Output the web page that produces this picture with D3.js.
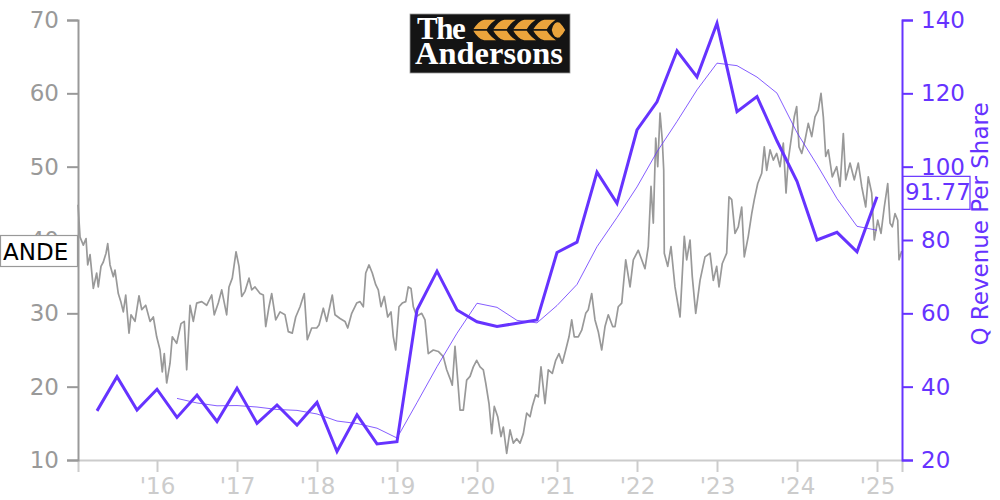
<!DOCTYPE html>
<html>
<head>
<meta charset="utf-8">
<script src="https://cdn.jsdelivr.net/npm/d3@7"></script>
<style>
  html, body { margin: 0; padding: 0; background: #fff; }
  svg { display: block; font-family: "DejaVu Sans", sans-serif; }
</style>
</head>
<body>
<svg id="chart" width="1000" height="500"></svg>
<script>
// ---------------- DATA ----------------
const ticker = "ANDE";
const rightAxisTitle = "Q Revenue Per Share";
const logoLines = ["The", "Andersons"];
const xTickYears = [2016, 2017, 2018, 2019, 2020, 2021, 2022, 2023, 2024, 2025];
const xTickLabels = ["'16", "'17", "'18", "'19", "'20", "'21", "'22", "'23", "'24", "'25"];
const leftTicks = [10, 20, 30, 40, 50, 60, 70];
const rightTicks = [20, 40, 60, 80, 100, 120, 140];

// share price (decimal year, USD)
const priceDates = [
  2015.013, 2015.038, 2015.079, 2015.113, 2015.134, 2015.163, 2015.204, 2015.246, 2015.266, 2015.300,
  2015.329, 2015.363, 2015.384, 2015.413, 2015.454, 2015.475, 2015.516, 2015.550, 2015.579, 2015.609,
  2015.650, 2015.675, 2015.725, 2015.775, 2015.809, 2015.859, 2015.913, 2015.954, 2015.996, 2016.038,
  2016.066, 2016.091, 2016.121, 2016.163, 2016.191, 2016.246, 2016.300, 2016.341, 2016.371, 2016.413,
  2016.454, 2016.496, 2016.559, 2016.621, 2016.684, 2016.716, 2016.766, 2016.809, 2016.871, 2016.900,
  2016.941, 2016.988, 2017.025, 2017.059, 2017.100, 2017.150, 2017.184, 2017.225, 2017.288, 2017.329,
  2017.359, 2017.400, 2017.434, 2017.484, 2017.538, 2017.600, 2017.641, 2017.691, 2017.734, 2017.788,
  2017.841, 2017.879, 2017.934, 2017.996, 2018.025, 2018.079, 2018.121, 2018.191, 2018.225, 2018.288,
  2018.350, 2018.384, 2018.434, 2018.496, 2018.538, 2018.579, 2018.609, 2018.650, 2018.691, 2018.734,
  2018.766, 2018.800, 2018.841, 2018.884, 2018.925, 2018.954, 2018.984, 2019.025, 2019.066, 2019.109,
  2019.141, 2019.175, 2019.204, 2019.246, 2019.309, 2019.350, 2019.391, 2019.454, 2019.516, 2019.579,
  2019.621, 2019.663, 2019.691, 2019.725, 2019.759, 2019.788, 2019.829, 2019.871, 2019.913, 2019.954,
  2019.996, 2020.038, 2020.079, 2020.109, 2020.150, 2020.184, 2020.216, 2020.259, 2020.300, 2020.329,
  2020.371, 2020.413, 2020.454, 2020.496, 2020.538, 2020.579, 2020.621, 2020.663, 2020.691, 2020.734,
  2020.766, 2020.800, 2020.850, 2020.891, 2020.941, 2020.984, 2021.025, 2021.066, 2021.109, 2021.150,
  2021.184, 2021.216, 2021.266, 2021.309, 2021.359, 2021.391, 2021.434, 2021.475, 2021.516, 2021.559,
  2021.600, 2021.641, 2021.696, 2021.725, 2021.766, 2021.809, 2021.859, 2021.913, 2021.954, 2022.016,
  2022.059, 2022.100, 2022.141, 2022.175, 2022.204, 2022.234, 2022.259, 2022.288, 2022.316, 2022.334,
  2022.341, 2022.384, 2022.425, 2022.475, 2022.538, 2022.591, 2022.621, 2022.663, 2022.691, 2022.734,
  2022.788, 2022.850, 2022.913, 2022.954, 2022.996, 2023.025, 2023.066, 2023.121, 2023.150, 2023.184,
  2023.225, 2023.266, 2023.309, 2023.341, 2023.391, 2023.434, 2023.466, 2023.509, 2023.559, 2023.591,
  2023.621, 2023.663, 2023.704, 2023.746, 2023.788, 2023.829, 2023.863, 2023.891, 2023.925, 2023.966,
  2023.996, 2024.025, 2024.059, 2024.100, 2024.141, 2024.184, 2024.225, 2024.266, 2024.300, 2024.329,
  2024.359, 2024.391, 2024.441, 2024.496, 2024.538, 2024.579, 2024.609, 2024.663, 2024.716, 2024.766,
  2024.809, 2024.859, 2024.891, 2024.934, 2024.966, 2025.009, 2025.050, 2025.091, 2025.134, 2025.163,
  2025.191, 2025.225, 2025.259, 2025.275, 2025.309
];
const priceValues = [
  44.8, 40.4, 39.3, 40.2, 36.6, 38.0, 33.4, 35.5, 33.6, 36.4,
  37.0, 38.2, 39.5, 36.6, 35.0, 35.9, 32.7, 31.5, 30.2, 32.5,
  27.3, 29.8, 28.9, 32.4, 30.5, 31.1, 28.9, 29.5, 26.8, 25.0,
  22.0, 24.5, 20.5, 23.2, 26.8, 25.9, 28.6, 28.9, 22.3, 31.1,
  28.9, 31.4, 31.6, 31.1, 32.5, 29.8, 31.4, 33.2, 29.8, 33.6,
  34.8, 38.4, 36.4, 32.3, 33.0, 34.8, 33.2, 33.6, 32.7, 32.5,
  28.2, 30.9, 32.7, 29.1, 30.2, 29.8, 27.5, 27.3, 29.5, 30.9,
  32.7, 26.4, 28.0, 28.0, 28.4, 30.7, 28.9, 32.5, 29.8, 29.3,
  28.9, 28.0, 30.0, 31.4, 31.6, 30.9, 35.5, 36.6, 35.5, 33.9,
  33.2, 30.9, 32.3, 29.5, 30.2, 26.8, 25.0, 30.9, 31.4, 31.6,
  33.6, 33.4, 30.9, 29.6, 30.0, 29.1, 24.5, 25.0, 24.8, 24.1,
  22.3, 21.1, 20.2, 25.5, 20.9, 16.8, 16.8, 20.9, 21.4, 22.7,
  23.6, 22.7, 22.3, 20.5, 17.7, 13.6, 17.3, 15.9, 13.2, 14.5,
  10.9, 14.1, 12.3, 12.9, 12.3, 13.6, 16.4, 15.9, 17.3, 18.9,
  18.6, 22.7, 17.7, 22.3, 21.8, 23.6, 24.5, 23.2, 25.0, 26.8,
  29.1, 26.8, 26.8, 27.7, 30.0, 30.5, 32.7, 29.1, 27.5, 25.0,
  28.2, 29.8, 28.2, 28.2, 30.9, 31.4, 37.3, 33.6, 37.3, 38.6,
  37.3, 36.1, 39.1, 47.3, 42.3, 53.9, 50.0, 57.3, 53.6, 49.5,
  38.2, 36.4, 39.1, 33.6, 29.5, 40.5, 37.3, 40.0, 35.0, 30.0,
  34.5, 37.7, 38.2, 34.5, 36.4, 33.6, 36.8, 38.2, 45.9, 45.5,
  40.9, 41.8, 44.5, 37.7, 40.5, 43.6, 45.5, 47.7, 49.1, 52.7,
  49.5, 52.3, 50.9, 51.8, 50.0, 53.2, 46.4, 50.9, 53.6, 56.8,
  58.2, 52.7, 51.8, 53.6, 55.9, 54.1, 56.8, 57.7, 60.0, 56.8,
  51.4, 52.3, 48.6, 50.0, 47.3, 54.5, 48.2, 50.5, 48.2, 50.5,
  47.3, 44.5, 48.6, 46.4, 40.0, 42.7, 40.9, 44.5, 47.7, 42.3,
  41.8, 43.6, 42.7, 37.3, 38.5
];

// quarterly revenue per share (quarter end, decimal year)
const quarterEnds = [
  2015.25, 2015.50, 2015.75, 2016.00, 2016.25, 2016.50, 2016.75, 2017.00,
  2017.25, 2017.50, 2017.75, 2018.00, 2018.25, 2018.50, 2018.75, 2019.00,
  2019.25, 2019.50, 2019.75, 2020.00, 2020.25, 2020.50, 2020.75, 2021.00,
  2021.25, 2021.50, 2021.75, 2022.00, 2022.25, 2022.50, 2022.75, 2023.00,
  2023.25, 2023.50, 2023.75, 2024.00, 2024.25, 2024.50, 2024.75, 2025.00
];
const revenueValues = [
  33.4, 42.7, 33.6, 39.3, 31.6, 37.7, 30.5, 39.6,
  30.0, 35.0, 29.5, 35.7, 22.3, 32.3, 24.4, 25.0,
  60.9, 71.5, 60.9, 57.7, 56.4, 57.3, 58.2, 76.6,
  79.4, 98.5, 90.0, 110.0, 117.7, 131.6, 124.5, 139.1,
  115.0, 119.1, 107.0, 96.0, 80.0, 82.1, 76.8, 91.77
];
// trailing four-quarter average (starts Q1 2016)
const revenueAvgEnds = quarterEnds.slice(4);
const revenueAvgValues = [
  36.80, 35.55, 34.78, 34.85, 34.45, 33.78, 33.53, 32.55,
  30.63, 29.95, 28.68, 26.00, 35.65, 45.45, 54.58, 62.75,
  61.63, 58.08, 57.40, 62.13, 67.88, 78.18, 86.13, 94.48,
  104.05, 112.33, 120.95, 128.23, 127.55, 124.43, 120.05, 109.28,
  100.53, 91.28, 83.73, 82.67
];

// ---------------- CHART ----------------
const purple = "#6633ff";
const svg = d3.select("#chart");
const plot = { left: 78, right: 902, top: 20, bottom: 460 };

const x = d3.scaleLinear().domain([2015.0125, 2025.3125]).range([plot.left, plot.right]);
const yL = d3.scaleLinear().domain([10, 70]).range([plot.bottom, plot.top]);
const yR = d3.scaleLinear().domain([20, 140]).range([plot.bottom, plot.top]);

// Logo
const logo = svg.append("g");
logo.append("rect").attr("x", 410).attr("y", 14).attr("width", 160).attr("height", 59)
  .attr("fill", "#141414").attr("stroke", "#9a9a9a").attr("stroke-width", 0.8);
const logoText = logo.append("text")
  .attr("fill", "#fff").attr("font-family", "Liberation Serif, serif").attr("font-weight", "bold")
  .attr("font-size", 31);
logoText.append("tspan").attr("x", 417).attr("y", 39).attr("letter-spacing", -1.5).text(logoLines[0]);
logoText.append("tspan").attr("x", 415).attr("y", 64)
  .attr("textLength", 148).attr("lengthAdjust", "spacingAndGlyphs").text(logoLines[1]);
const wheat = logo.append("g").attr("fill", "#eba43c").attr("stroke", "#141414").attr("stroke-width", 1.4);
[0, 1, 2, 3].forEach(i => {
  const cx = 472 + i * 20;
  wheat.append("path").attr("d", `M${cx},30 Q${cx + 6},20 ${cx + 12},19 L${cx + 27},19 Q${cx + 20},22 ${cx + 15},30 Z`);
  wheat.append("path").attr("d", `M${cx},30 Q${cx + 6},40 ${cx + 12},41 L${cx + 27},41 Q${cx + 20},38 ${cx + 15},30 Z`);
});
wheat.append("path").attr("d", "M551,30 Q553,20 560,22 Q564,26 566,30 Q564,34 560,38 Q553,40 551,30 Z");

// Price line
const priceData = priceDates.map((d, i) => [d, priceValues[i]]);
svg.append("path").datum(priceData)
  .attr("fill", "none").attr("stroke", "#999").attr("stroke-width", 1.7).attr("stroke-linejoin", "round")
  .attr("d", d3.line().x(d => x(d[0])).y(d => yL(d[1])));

// Revenue average (thin)
const avgData = revenueAvgEnds.map((d, i) => [d, revenueAvgValues[i]]);
svg.append("path").datum(avgData)
  .attr("fill", "none").attr("stroke", purple).attr("stroke-width", 0.8)
  .attr("d", d3.line().x(d => x(d[0])).y(d => yR(d[1])));

// Revenue (thick)
const revData = quarterEnds.map((d, i) => [d, revenueValues[i]]);
svg.append("path").datum(revData)
  .attr("fill", "none").attr("stroke", purple).attr("stroke-width", 3).attr("stroke-linejoin", "miter")
  .attr("d", d3.line().x(d => x(d[0])).y(d => yR(d[1])));

// X axis
const xAxis = svg.append("g").attr("transform", `translate(0,${plot.bottom})`)
  .call(d3.axisBottom(x).tickValues(xTickYears).tickFormat((d, i) => xTickLabels[i])
    .tickSize(12).tickSizeOuter(12).tickPadding(6));
xAxis.select(".domain").attr("stroke", "#ccc").attr("stroke-width", 2);
xAxis.selectAll(".tick line").attr("stroke", "#ccc").attr("stroke-width", 2);
xAxis.selectAll(".tick text").attr("fill", "#ccc").attr("font-size", 23).attr("font-family", "DejaVu Sans");

// Left axis
const lAxis = svg.append("g").attr("transform", `translate(${plot.left},0)`)
  .call(d3.axisLeft(yL).tickValues(leftTicks).tickSize(11).tickSizeOuter(11).tickPadding(8));
lAxis.select(".domain").attr("stroke", "#999").attr("stroke-width", 2);
lAxis.selectAll(".tick line").attr("stroke", "#999").attr("stroke-width", 2);
lAxis.selectAll(".tick text").attr("fill", "#999").attr("font-size", 23).attr("font-family", "DejaVu Sans");

// Right axis
const rAxis = svg.append("g").attr("transform", `translate(${plot.right},0)`)
  .call(d3.axisRight(yR).tickValues(rightTicks).tickSize(11).tickSizeOuter(11).tickPadding(8));
rAxis.select(".domain").attr("stroke", purple).attr("stroke-width", 2);
rAxis.selectAll(".tick line").attr("stroke", purple).attr("stroke-width", 2);
rAxis.selectAll(".tick text").attr("fill", purple).attr("font-size", 23).attr("font-family", "DejaVu Sans");

// Right axis title
svg.append("text")
  .attr("transform", `translate(988,${(plot.top + plot.bottom) / 2 - 16}) rotate(-90)`)
  .attr("text-anchor", "middle").attr("fill", purple).attr("font-size", 23)
  .text(rightAxisTitle);

// Ticker label (last price), drawn over the left axis like the reference
const lastPrice = priceValues[priceValues.length - 1];
const ly = yL(lastPrice);
svg.append("rect").attr("x", 0.5).attr("y", ly - 15.5).attr("width", plot.left - 1).attr("height", 31)
  .attr("fill", "#fff").attr("stroke", "#999").attr("stroke-width", 1.2);
svg.append("text").attr("x", 3).attr("y", ly + 8.5).attr("fill", "#000").attr("font-size", 23).text(ticker);

// Last revenue label
const lastRev = revenueValues[revenueValues.length - 1];
const ry = yR(lastRev) - 4;
svg.append("rect").attr("x", plot.right + 1).attr("y", ry - 16.5).attr("width", 67).attr("height", 33)
  .attr("fill", "#fff").attr("stroke", purple).attr("stroke-width", 1.2);
svg.append("text").attr("x", plot.right + 3).attr("y", ry + 7.5).attr("fill", purple).attr("font-size", 23)
  .text(lastRev.toFixed(2));
</script>
</body>
</html>
